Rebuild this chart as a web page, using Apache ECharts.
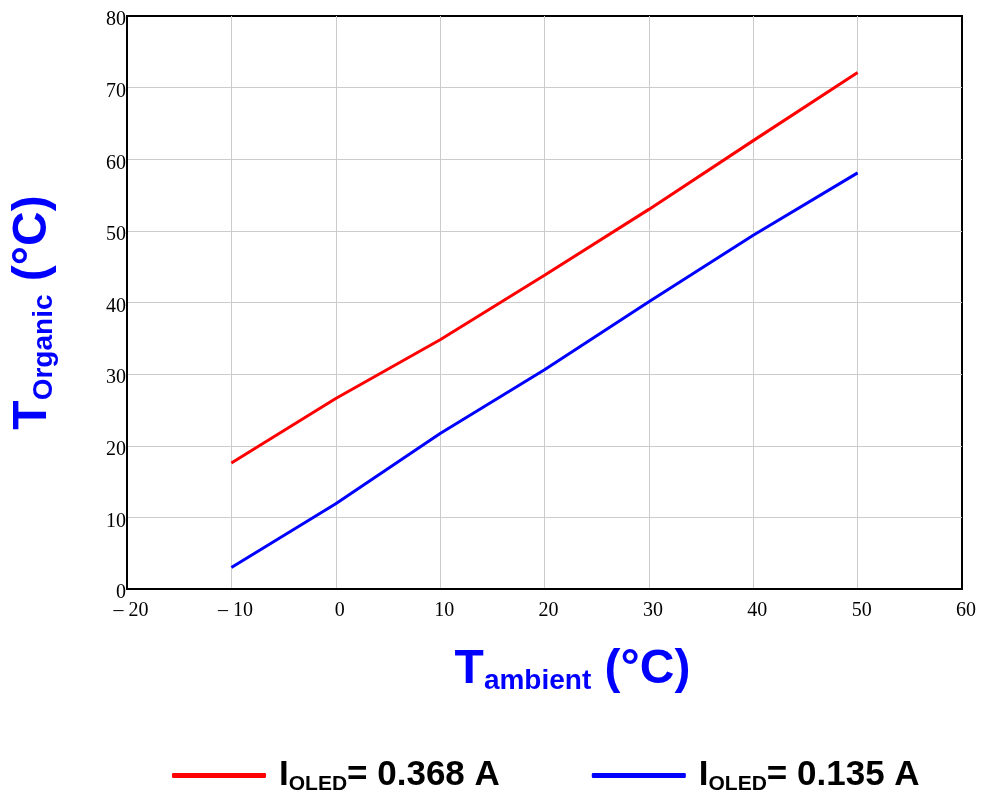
<!DOCTYPE html>
<html>
<head>
<meta charset="utf-8">
<script src="https://cdn.jsdelivr.net/npm/echarts@6/dist/echarts.min.js"></script>
<style>html,body{margin:0;padding:0;background:#fff}#c{width:982px;height:794px}</style>
</head>
<body>
<div id="c"></div>
<script>
const ambient = [-10, 0, 10, 20, 30, 40, 50];
const organicHigh = [17.6, 26.6, 34.8, 43.8, 53.0, 62.6, 72.1];
const organicLow = [3.0, 11.9, 21.7, 30.6, 40.1, 49.4, 58.1];
const seriesNames = ['0.368', '0.135'];
const xTicks = [-20, -10, 0, 10, 20, 30, 40, 50, 60];
const yTicks = [0, 10, 20, 30, 40, 50, 60, 70, 80];

const chart = echarts.init(document.getElementById('c'));
const bold = {fontFamily: 'Liberation Sans', fontWeight: 'bold', color: '#0000ff'};
const titleRich = {
  t: Object.assign({fontSize: 48, lineHeight: 50}, bold),
  s: Object.assign({fontSize: 28, lineHeight: 8, verticalAlign: 'bottom'}, bold)
};
chart.setOption({
  animation: false,
  grid: {left: 127, top: 16, width: 835, height: 573, containLabel: false, outerBoundsMode: 'none',
    show: true, borderColor: '#000', borderWidth: 2, backgroundColor: 'transparent'},
  xAxis: {
    type: 'value', min: xTicks[0], max: xTicks[xTicks.length - 1], interval: 10,
    axisLine: {show: true, onZero: false, lineStyle: {color: '#000', width: 2}},
    axisTick: {show: false},
    splitLine: {show: true, showMinLine: false, showMaxLine: false, lineStyle: {color: '#cccccc', width: 1}},
    axisLabel: {margin: 12, fontFamily: 'Liberation Serif', fontSize: 20, color: '#000', padding: [0, 0, 0, 8],
      formatter: v => v < 0 ? '\u2013 ' + Math.abs(v) : String(v)},
    name: '{t|T}{s|ambient}{t| (°C)}',
    nameLocation: 'middle', nameGap: 56,
    nameTextStyle: {rich: titleRich, padding: [0, 0, 0, 56]}
  },
  yAxis: {
    type: 'value', min: yTicks[0], max: yTicks[yTicks.length - 1], interval: 10,
    axisLine: {show: true, onZero: false, lineStyle: {color: '#000', width: 2}},
    axisTick: {show: false},
    splitLine: {show: true, showMinLine: false, showMaxLine: false, lineStyle: {color: '#cccccc', width: 1}},
    axisLabel: {margin: 1, fontFamily: 'Liberation Serif', fontSize: 20, color: '#000', verticalAlign: 'top', lineHeight: 8},
    name: '{t|T}{s|Organic}{t| (°C)}',
    nameLocation: 'middle', nameGap: 69, nameRotate: 90,
    nameTextStyle: {rich: titleRich, padding: [0, 20, 0, 0]}
  },
  legend: {
    left: 167, top: 753, itemGap: 92, itemWidth: 94, itemHeight: 5, icon: 'roundRect',
    data: seriesNames,
    formatter: n => '{b|I}{s|OLED}{b|= ' + n + ' A}',
    textStyle: {padding: [0, 0, 0, 8], rich: {
      b: {fontFamily: 'Liberation Sans', fontWeight: 'bold', fontSize: 35, lineHeight: 38, color: '#000'},
      s: {fontFamily: 'Liberation Sans', fontWeight: 'bold', fontSize: 21, lineHeight: 2, verticalAlign: 'bottom', color: '#000'}
    }}
  },
  series: [
    {name: seriesNames[0], type: 'line', showSymbol: false, color: '#ff0000', lineStyle: {width: 3, color: '#ff0000'},
      data: ambient.map((x, i) => [x, organicHigh[i]])},
    {name: seriesNames[1], type: 'line', showSymbol: false, color: '#0000ff', lineStyle: {width: 3, color: '#0000ff'},
      data: ambient.map((x, i) => [x, organicLow[i]])}
  ]
});
</script>
</body>
</html>
